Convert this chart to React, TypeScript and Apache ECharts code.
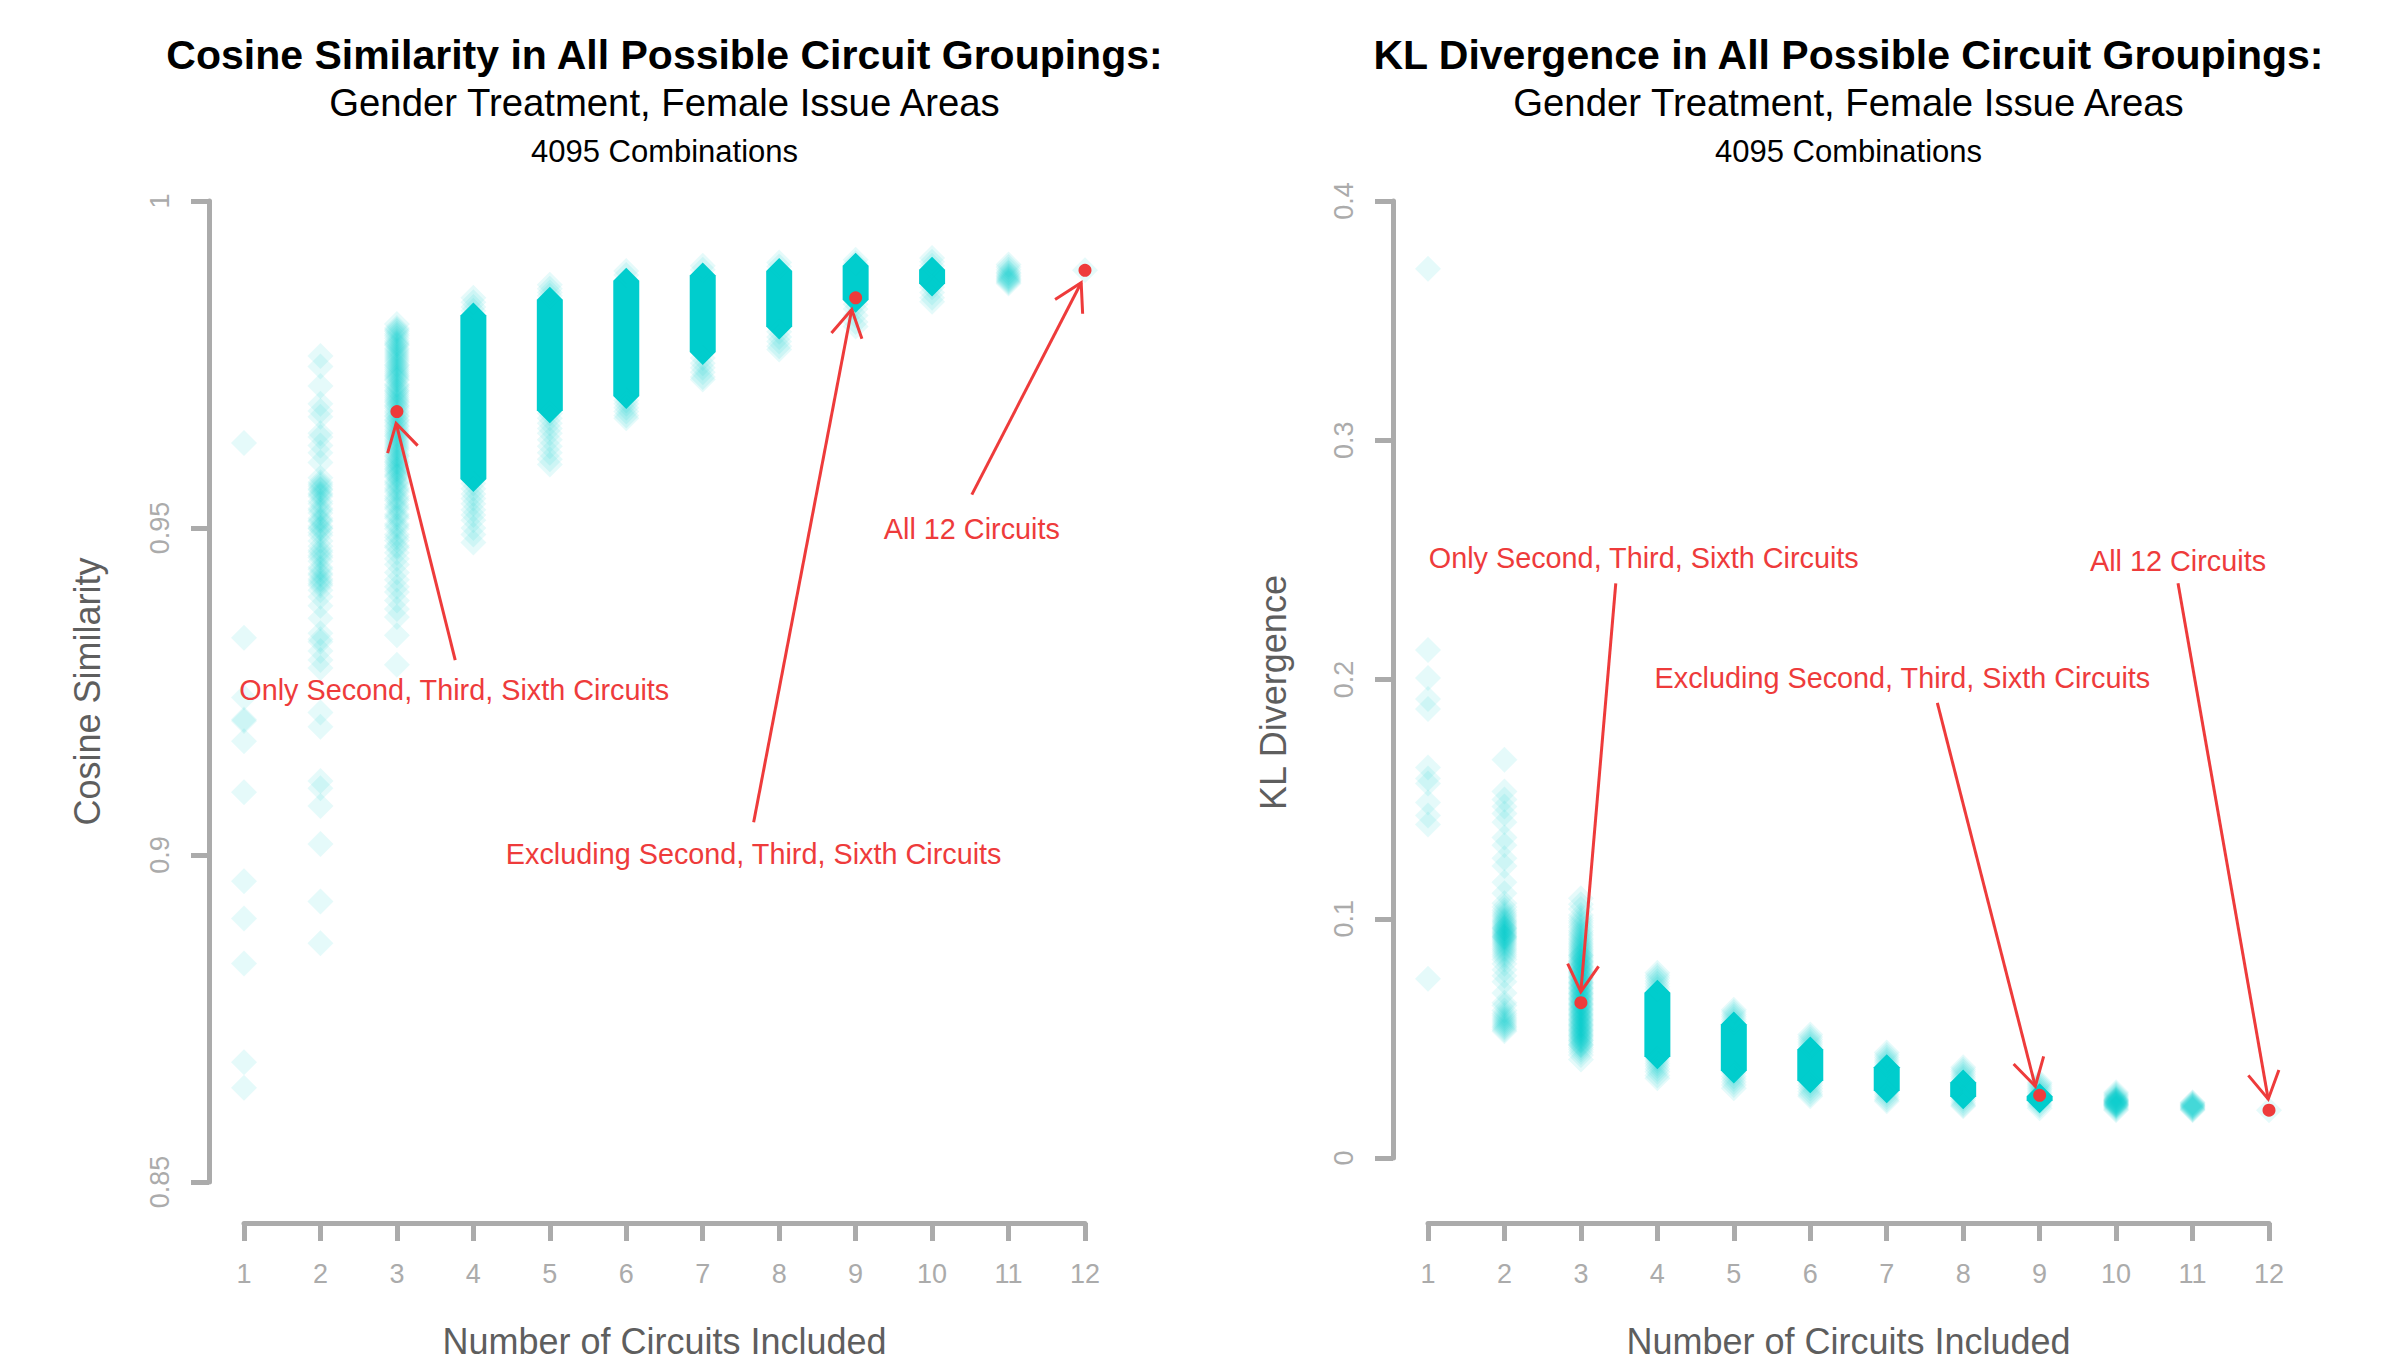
import React, { useEffect, useRef } from 'react';
import * as echarts from 'echarts';

// ---------- data ----------
const circuits = [1, 2, 3, 4, 5, 6, 7, 8, 9, 10, 11, 12];

// individual (faint) cosine-similarity markers per number of circuits
const cosineTails: number[][] = [
  [0.9630, 0.9332, 0.9241, 0.9207, 0.9205, 0.9174, 0.9096, 0.8960, 0.8903, 0.8834, 0.8683, 0.8644],
  [0.9763, 0.9747, 0.9717, 0.9690, 0.9679, 0.9670, 0.9645, 0.9639, 0.9626, 0.9615, 0.9600, 0.9577, 0.9570,
   0.9567, 0.9564, 0.9560, 0.9558, 0.9553, 0.9551, 0.9548, 0.9541, 0.9537, 0.9530, 0.9527, 0.9523, 0.9515,
   0.9512, 0.9510, 0.9503, 0.9500, 0.9499, 0.9493, 0.9489, 0.9480, 0.9472, 0.9466, 0.9463, 0.9458, 0.9455,
   0.9449, 0.9440, 0.9437, 0.9431, 0.9428, 0.9422, 0.9419, 0.9415, 0.9412, 0.9405, 0.9395, 0.9381, 0.9362,
   0.9339, 0.9330, 0.9326, 0.9312, 0.9298, 0.9286, 0.9218, 0.9196, 0.9113, 0.9102, 0.9075, 0.9017, 0.8929, 0.8865],
  [0.9812, 0.9806, 0.9801, 0.9797, 0.9790, 0.9786, 0.9781, 0.9779, 0.9772, 0.9769, 0.9763, 0.9760, 0.9757,
   0.9750, 0.9748, 0.9742, 0.9739, 0.9733, 0.9731, 0.9726, 0.9720, 0.9718, 0.9711, 0.9709, 0.9703, 0.9700,
   0.9694, 0.9692, 0.9686, 0.9683, 0.9679, 0.9672, 0.9670, 0.9664, 0.9661, 0.9655, 0.9651, 0.9648, 0.9642,
   0.9640, 0.9633, 0.9630, 0.9627, 0.9621, 0.9618, 0.9611, 0.9609, 0.9602, 0.9600, 0.9594, 0.9591, 0.9586,
   0.9582, 0.9578, 0.9572, 0.9566, 0.9561, 0.9555, 0.9549, 0.9542, 0.9536, 0.9529, 0.9521, 0.9515, 0.9506,
   0.9499, 0.9490, 0.9481, 0.9473, 0.9462, 0.9453, 0.9444, 0.9432, 0.9421, 0.9410, 0.9402, 0.9389, 0.9376,
   0.9364, 0.9336, 0.9291,
   0.9803, 0.9794, 0.9783, 0.9775, 0.9766, 0.9754, 0.9745, 0.9736, 0.9728, 0.9715, 0.9706, 0.9697, 0.9688,
   0.9676, 0.9666, 0.9657, 0.9645, 0.9636, 0.9624, 0.9614, 0.9605, 0.9597, 0.9589, 0.9580, 0.9569, 0.9558,
   0.9545, 0.9532, 0.9518, 0.9503, 0.9486, 0.9470],
  [0.9852, 0.9845, 0.9838, 0.9832, 0.9568, 0.9560, 0.9552, 0.9545, 0.9537, 0.9528, 0.9520, 0.9512, 0.9500, 0.9490, 0.9478],
  [0.9872, 0.9866, 0.9860, 0.9855, 0.9675, 0.9668, 0.9660, 0.9652, 0.9645, 0.9635, 0.9625, 0.9615, 0.9605, 0.9597],
  [0.9893, 0.9887, 0.9695, 0.9690, 0.9684, 0.9678, 0.9672, 0.9668],
  [0.9901, 0.9895, 0.9760, 0.9752, 0.9745, 0.9738, 0.9731, 0.9727],
  [0.9906, 0.9900, 0.9800, 0.9792, 0.9785, 0.9778, 0.9773],
  [0.9910, 0.9905, 0.9842, 0.9835, 0.9825, 0.9815, 0.9808],
  [0.9913, 0.9907, 0.9901, 0.9868, 0.9860, 0.9852, 0.9846],
  [0.9903, 0.9899, 0.9895, 0.9891, 0.9889, 0.9886, 0.9884, 0.9882, 0.9880, 0.9878, 0.9876, 0.9874],
  [0.9894],
];
// saturated core of each column (where the markers overlap completely)
const cosineCoreHigh: (number | null)[] = [null, null, null, 0.9825, 0.9849, 0.9878, 0.9886, 0.9893, 0.9901, 0.9895, null, null];
const cosineCoreLow: (number | null)[] = [null, null, null, 0.9575, 0.9680, 0.9702, 0.9769, 0.9808, 0.9849, 0.9874, null, null];

const klTails: number[][] = [
  [0.3717, 0.2123, 0.2006, 0.1919, 0.1877, 0.1632, 0.1586, 0.1565, 0.1486, 0.1432, 0.1394, 0.0749],
  [0.1665, 0.1532, 0.1498, 0.1469, 0.1440, 0.1403, 0.1340, 0.1307, 0.1253, 0.1220, 0.1153, 0.1107, 0.1065,
   0.1049, 0.1036, 0.1025, 0.1016, 0.1008, 0.0999, 0.0992, 0.0986, 0.0980, 0.0974, 0.0968, 0.0962, 0.0957,
   0.0952, 0.0947, 0.0943, 0.0938, 0.0934, 0.0929, 0.0925, 0.0920, 0.0915, 0.0910, 0.0904, 0.0898, 0.0891,
   0.0884, 0.0876, 0.0868, 0.0860, 0.0851, 0.0841, 0.0830, 0.0812, 0.0787, 0.0762, 0.0737, 0.0690, 0.0649,
   0.0637, 0.0616, 0.0604, 0.0595, 0.0585, 0.0577, 0.0568, 0.0560, 0.0552, 0.0545, 0.0537, 0.0530, 0.0925, 0.0960],
  [0.1086, 0.1061, 0.1041, 0.1016, 0.1003, 0.0992, 0.0982, 0.0971, 0.0962, 0.0951, 0.0944, 0.0935, 0.0929,
   0.0920, 0.0913, 0.0906, 0.0899, 0.0893, 0.0886, 0.0881, 0.0874, 0.0869, 0.0862, 0.0857, 0.0851, 0.0846,
   0.0839, 0.0835, 0.0828, 0.0823, 0.0817, 0.0812, 0.0806, 0.0801, 0.0795, 0.0790, 0.0784, 0.0779, 0.0773,
   0.0768, 0.0762, 0.0757, 0.0751, 0.0746, 0.0740, 0.0735, 0.0729, 0.0724, 0.0718, 0.0713, 0.0707, 0.0702,
   0.0696, 0.0691, 0.0685, 0.0680, 0.0674, 0.0669, 0.0663, 0.0658, 0.0652, 0.0647, 0.0641, 0.0636, 0.0630,
   0.0625, 0.0619, 0.0614, 0.0608, 0.0603, 0.0597, 0.0592, 0.0586, 0.0581, 0.0575, 0.0570, 0.0564, 0.0559,
   0.0553, 0.0548, 0.0542, 0.0537, 0.0531, 0.0526, 0.0520, 0.0515, 0.0509, 0.0503, 0.0497, 0.0490, 0.0484,
   0.0477, 0.0470, 0.0462, 0.0453, 0.0443, 0.0430, 0.0412,
   0.0845, 0.0820, 0.0798, 0.0776, 0.0755, 0.0733, 0.0710, 0.0688, 0.0666, 0.0644, 0.0622, 0.0600, 0.0578,
   0.0556, 0.0534, 0.0512, 0.0492, 0.0473],
  [0.0774, 0.0763, 0.0752, 0.0740, 0.0728, 0.0716, 0.0705, 0.0415, 0.0405, 0.0395, 0.0385, 0.0372, 0.0360, 0.0345, 0.0333],
  [0.0620, 0.0610, 0.0600, 0.0590, 0.0580, 0.0570, 0.0355, 0.0342, 0.0330, 0.0318, 0.0305, 0.0292],
  [0.0516, 0.0506, 0.0495, 0.0485, 0.0475, 0.0465, 0.0315, 0.0303, 0.0290, 0.0278, 0.0266, 0.0258],
  [0.0441, 0.0430, 0.0420, 0.0410, 0.0400, 0.0390, 0.0276, 0.0265, 0.0255, 0.0245, 0.0237],
  [0.0379, 0.0370, 0.0360, 0.0350, 0.0340, 0.0330, 0.0250, 0.0240, 0.0230, 0.0222, 0.0216],
  [0.0316, 0.0308, 0.0300, 0.0292, 0.0284, 0.0275, 0.0267, 0.0235, 0.0226, 0.0218, 0.0208],
  [0.0275, 0.0268, 0.0262, 0.0257, 0.0252, 0.0248, 0.0245, 0.0242, 0.0240, 0.0238, 0.0236, 0.0234, 0.0232,
   0.0230, 0.0228, 0.0226, 0.0224, 0.0222, 0.0220, 0.0217, 0.0214, 0.0210, 0.0205, 0.0200],
  [0.0233, 0.0230, 0.0226, 0.0223, 0.0220, 0.0217, 0.0215, 0.0212, 0.0209, 0.0206, 0.0203, 0.0200],
  [0.0200],
];
const klCoreHigh: (number | null)[] = [null, null, null, 0.0691, 0.0558, 0.0454, 0.0379, 0.0316, 0.0258, null, null, null];
const klCoreLow: (number | null)[] = [null, null, null, 0.0425, 0.0366, 0.0325, 0.0283, 0.0258, 0.0241, null, null, null];

// highlighted groupings: 2nd/3rd/6th only, excluding them, all 12
const highlightX = [3, 9, 12];
const cosineHighlightY = [0.9678, 0.9852, 0.9894];
const klHighlightY = [0.0649, 0.0262, 0.0200];

const annotationLabels = [
  'Only Second, Third, Sixth Circuits',
  'Excluding Second, Third, Sixth Circuits',
  'All 12 Circuits',
];
const cosineLabelPos = [[3.75, 0.9253], [7.666, 0.9002], [10.52, 0.9499]];
const cosineArrowFrom = [[3.763, 0.9298], [7.666, 0.9050], [10.52, 0.9551]];
const cosineArrowTo = [[2.99, 0.9660], [8.949, 0.9834], [11.95, 0.9875]];
const klLabelPos = [[3.822, 0.2506], [7.205, 0.2006], [10.81, 0.2497]];
const klArrowFrom = [[3.456, 0.2402], [7.662, 0.1902], [10.81, 0.2402]];
const klArrowTo = [[2.999, 0.0695], [8.943, 0.0300], [11.99, 0.0246]];

const titles = [
  'Cosine Similarity in All Possible Circuit Groupings:',
  'KL Divergence in All Possible Circuit Groupings:',
];
const subtitle = 'Gender Treatment, Female Issue Areas';
const combos = '4095 Combinations';

// ---------- styles ----------
const FONT = '"Liberation Sans", Arial, Helvetica, sans-serif';
const CYAN = '#00CDCD';
const RED = '#EE3B3B';
const AXIS = '#ABABAB';
const AXIS_TITLE = '#5E5E5E';

function buildPanel(g: number, tails: number[][], coreHi: (number | null)[], coreLo: (number | null)[],
  hlY: number[], labelPos: number[][], arrowFrom: number[][], arrowTo: number[][]) {
  const tailData: number[][] = [];
  tails.forEach((col, i) => col.forEach((v) => tailData.push([circuits[i], v])));
  const bandData: number[][] = [];
  circuits.forEach((x, i) => {
    if (coreHi[i] != null && coreLo[i] != null) bandData.push([x, coreLo[i] as number, coreHi[i] as number]);
  });
  const arrowData = arrowFrom.map((f, i) => [f[0], f[1], arrowTo[i][0], arrowTo[i][1]]);
  const hlData = highlightX.map((x, i) => [x, hlY[i]]);
  const axisRef = { xAxisIndex: g, yAxisIndex: g };
  return [
    {
      type: 'custom', ...axisRef, clip: false, silent: true, z: 2,
      encode: { x: 0, y: [1, 2] },
      data: bandData,
      renderItem: (params: any, api: any) => {
        const x = api.value(0);
        const top = api.coord([x, api.value(2)]);
        const bot = api.coord([x, api.value(1)]);
        const w = 13, h = 13;
        return {
          type: 'polygon',
          shape: {
            points: [[top[0], top[1] - h], [top[0] + w, top[1]], [bot[0] + w, bot[1]],
              [bot[0], bot[1] + h], [bot[0] - w, bot[1]], [top[0] - w, top[1]]],
          },
          style: { fill: CYAN },
        };
      },
    },
    {
      type: 'scatter', ...axisRef, clip: false, silent: true, z: 3, progressive: 0,
      symbol: 'diamond', symbolSize: 26,
      itemStyle: { color: CYAN, opacity: 0.1 },
      data: tailData,
    },
    {
      type: 'custom', ...axisRef, clip: false, silent: true, z: 4,
      encode: { x: [0, 2], y: [1, 3] },
      data: arrowData,
      renderItem: (params: any, api: any) => {
        const p0 = api.coord([api.value(0), api.value(1)]);
        const p1 = api.coord([api.value(2), api.value(3)]);
        const ang = Math.atan2(p0[1] - p1[1], p0[0] - p1[0]);
        const L = 31, a = Math.PI / 6;
        const l1 = [p1[0] + L * Math.cos(ang + a), p1[1] + L * Math.sin(ang + a)];
        const l2 = [p1[0] + L * Math.cos(ang - a), p1[1] + L * Math.sin(ang - a)];
        return {
          type: 'group',
          children: [
            { type: 'line', shape: { x1: p0[0], y1: p0[1], x2: p1[0], y2: p1[1] }, style: { stroke: RED, lineWidth: 3 } },
            { type: 'polyline', shape: { points: [l1, p1, l2] }, style: { stroke: RED, lineWidth: 3, fill: 'none' } },
          ],
        };
      },
    },
    {
      type: 'scatter', ...axisRef, clip: false, silent: true, z: 5,
      symbol: 'circle', symbolSize: 13,
      itemStyle: { color: RED, opacity: 1 },
      data: hlData,
    },
    {
      type: 'custom', ...axisRef, clip: false, silent: true, z: 5,
      encode: { x: 0, y: 1 },
      data: labelPos,
      renderItem: (params: any, api: any) => {
        const p = api.coord([api.value(0), api.value(1)]);
        return {
          type: 'text', x: p[0], y: p[1],
          style: {
            text: annotationLabels[params.dataIndex], fill: RED, fontSize: 28.8, fontFamily: FONT,
            align: 'center', verticalAlign: 'middle',
          },
        };
      },
    },
  ];
}

function axisCommon() {
  return {
    type: 'value' as const,
    splitLine: { show: false },
    axisLine: { show: true, onZero: false, lineStyle: { color: AXIS, width: 5 } },
    axisTick: { show: true, length: 18, lineStyle: { color: AXIS, width: 5 } },
    nameLocation: 'middle' as const,
  };
}

function buildOption() {
  const grids = [
    { left: 244, top: 201, width: 841, height: 985 },
    { left: 1428, top: 201, width: 841, height: 961 },
  ];
  const xAxes = [0, 1].map((g) => ({
    ...axisCommon(), gridIndex: g, min: 1, max: 12, interval: 1,
    offset: g === 0 ? 41 : 65,
    axisLabel: { color: AXIS, fontSize: 27, margin: 37, fontFamily: FONT, showMinLabel: true, showMaxLabel: true },
    name: 'Number of Circuits Included', nameGap: 100,
    nameTextStyle: { fontSize: 36, color: AXIS_TITLE, fontFamily: FONT },
  }));
  const yAxes = [
    {
      ...axisCommon(), gridIndex: 0, min: 0.85, max: 1, interval: 0.05, offset: 35,
      axisLabel: { color: AXIS, fontSize: 27, margin: 36, rotate: 90, fontFamily: FONT, showMinLabel: true, showMaxLabel: true },
      name: 'Cosine Similarity', nameGap: 104, nameRotate: 90,
      nameTextStyle: { fontSize: 36, color: AXIS_TITLE, fontFamily: FONT },
    },
    {
      ...axisCommon(), gridIndex: 1, min: 0, max: 0.4, interval: 0.1, offset: 35,
      axisLabel: { color: AXIS, fontSize: 27, margin: 36, rotate: 90, fontFamily: FONT, showMinLabel: true, showMaxLabel: true },
      name: 'KL Divergence', nameGap: 102, nameRotate: 90,
      nameTextStyle: { fontSize: 36, color: AXIS_TITLE, fontFamily: FONT, padding: [0, 26, 0, 0] },
    },
  ];
  const centers = [664.5, 1848.5];
  const graphic: any[] = [];
  centers.forEach((cx, i) => {
    graphic.push(
      { type: 'text', x: cx, y: 55, silent: true, style: { text: titles[i], fontSize: 41, fontWeight: 'bold', fontFamily: FONT, fill: '#000', align: 'center', verticalAlign: 'middle', textAlign: 'center', textVerticalAlign: 'middle' } },
      { type: 'text', x: cx, y: 102, silent: true, style: { text: subtitle, fontSize: 38.3, fontFamily: FONT, fill: '#000', align: 'center', verticalAlign: 'middle', textAlign: 'center', textVerticalAlign: 'middle' } },
      { type: 'text', x: cx, y: 151, silent: true, style: { text: combos, fontSize: 31, fontFamily: FONT, fill: '#000', align: 'center', verticalAlign: 'middle', textAlign: 'center', textVerticalAlign: 'middle' } },
    );
  });
  return {
    animation: false,
    backgroundColor: '#ffffff',
    textStyle: { fontFamily: FONT },
    grid: grids,
    xAxis: xAxes,
    yAxis: yAxes,
    graphic,
    series: [
      ...buildPanel(0, cosineTails, cosineCoreHigh, cosineCoreLow, cosineHighlightY, cosineLabelPos, cosineArrowFrom, cosineArrowTo),
      ...buildPanel(1, klTails, klCoreHigh, klCoreLow, klHighlightY, klLabelPos, klArrowFrom, klArrowTo),
    ],
  };
}

export default function App() {
  const ref = useRef<HTMLDivElement>(null);
  useEffect(() => {
    document.documentElement.style.margin = '0';
    document.documentElement.style.overflow = 'hidden';
    document.body.style.margin = '0';
    document.body.style.overflow = 'hidden';
    const chart = echarts.init(ref.current as HTMLDivElement, null, { renderer: 'svg' });
    chart.setOption(buildOption() as any);
    return () => chart.dispose();
  }, []);
  return (
    <div
      ref={ref}
      style={{ position: 'absolute', left: 0, top: 0, width: 2388, height: 1364, overflow: 'hidden' }}
    />
  );
}
